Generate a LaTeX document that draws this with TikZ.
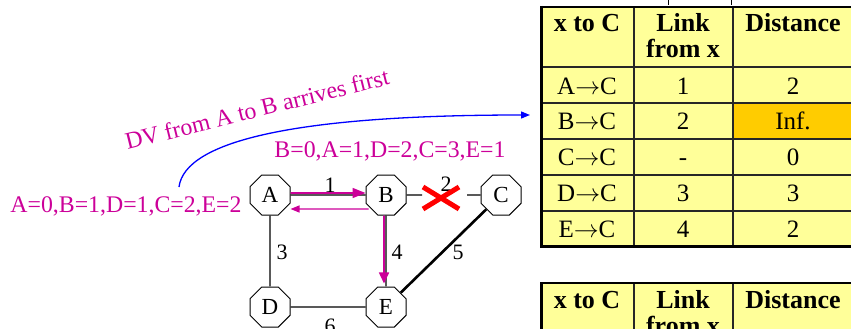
\documentclass[tikz,border=0pt]{standalone}
\usepackage{fontspec}
\setmainfont{Liberation Serif}
\usetikzlibrary{shapes.geometric,arrows.meta}
\definecolor{dvmag}{RGB}{204,0,153}
\definecolor{dvblue}{RGB}{0,0,255}
\definecolor{cellyel}{RGB}{255,255,153}
\definecolor{cellorg}{RGB}{255,204,0}
\begin{document}
\begin{tikzpicture}[x=1pt,y=-1pt,
  router/.style={draw,line width=1pt,regular polygon,regular polygon sides=8,
    minimum size=43.3pt,inner sep=0pt,font=\fontsize{23}{23}\selectfont},
  link/.style={line width=1.2pt},
  heavylink/.style={line width=2.6pt},
  cost/.style={font=\fontsize{22}{22}\selectfont,inner sep=0pt},
  vectxt/.style={text=dvmag,font=\fontsize{23.8}{24}\selectfont,inner sep=0pt,anchor=base},
  magarrow/.style={draw=dvmag,line width=1.6pt},
  gridline/.style={line width=1.2pt,black!85},
  hdr/.style={anchor=base,inner sep=0pt,font=\fontsize{26}{26}\selectfont\bfseries},
  cell/.style={anchor=base,inner sep=0pt,font=\fontsize{25}{25}\selectfont}]
\useasboundingbox (0,0) rectangle (851,329);
\clip (0,0) rectangle (851,329);

% ---- network ----
\node[router] (A) at (270,195) {A};
\node[router] (B) at (386,195) {B};
\node[router] (C) at (501,195) {C};
\node[router] (D) at (270,307) {D};
\node[router] (E) at (386,307) {E};

\coordinate (bc1) at (422,195);
\coordinate (bc2) at (467,195);

\draw[link] (A) -- (B);
\draw[link] (A) -- (D);
\draw[link] (D) -- (E);
\draw[link] (B) -- (E);
\draw[link] (B) -- (bc1);
\draw[link] (bc2) -- (C);
\draw[heavylink] (C) -- (E);

\node[cost] (l1) at (330,185) {1};
\node[cost] (l2) at (446,184) {2};
\node[cost] (l3) at (282,252) {3};
\node[cost] (l4) at (397,252) {4};
\node[cost] (l5) at (458,252) {5};
\node[cost] (l6) at (330,326) {6};

% broken link B--C
\coordinate (cut) at (441,198);
\draw[red,line width=5pt] ([shift={(-18pt,-11pt)}]cut) -- ([shift={(18pt,11pt)}]cut)
  ([shift={(-18pt,11pt)}]cut) -- ([shift={(18pt,-11pt)}]cut);

% distance vectors exchanged
\draw[magarrow,-{Triangle[length=13pt,width=10pt]}]
  ([yshift=2pt]A.east) -- ([yshift=2pt]B.west);
\draw[magarrow,line width=1.3pt,-{Triangle[length=9pt,width=7pt]}]
  ([xshift=3pt,yshift=-14pt]B.west) -- ([yshift=-14pt]A.east);
\draw[magarrow,-{Triangle[length=11pt,width=10pt]}]
  ([xshift=-2pt]B.south) -- ([xshift=-2pt,yshift=3pt]E.north);

\node[vectxt] (va) at (126,212) {A=0,B=1,D=1,C=2,E=2};
\node[vectxt] (vb) at (390,157) {B=0,A=1,D=2,C=3,E=1};
\node[vectxt,rotate=14] (note) at (259,117) {DV from A to B arrives first};

\coordinate (dvstart) at (179,187);
\coordinate (tbl) at (530,115);
\draw[dvblue,line width=1.3pt,-{Triangle[length=9pt,width=7pt]}]
  (dvstart) .. controls (185,140) and (300,115) .. (tbl);

% ---- routing table: x to C ----
\draw[line width=0.8pt] (668,0) -- (668,5) (731,0) -- (731,5);
\fill[cellyel] (540,7) rectangle (853,246);
\fill[cellorg] (733,103) rectangle (853,139);
\draw[gridline] (634,7) -- (634,246) (733,7) -- (733,246);
\foreach \yy in {67,103,139,175,211} \draw[gridline] (540,\yy) -- (853,\yy);
\draw[line width=2pt] (540,7) -- (853,7);
\draw[line width=3pt] (541.5,6) -- (541.5,246.5) -- (853,246.5);

\node[hdr] (h1) at (587,32) {x to C};
\node[hdr] (h2) at (683,32) {Link};
\node[hdr] (h2b) at (683,58) {from x};
\node[hdr] (h3) at (793,32) {Distance};

\foreach \n/\l/\d [count=\i] in {A/1/2,B/2/Inf.,C/-/0,D/3/3,E/4/2} {
  \pgfmathsetmacro\yb{94+35.9*(\i-1)}
  \node[cell] (r\i x) at (587,\yb) {\n\(\rightarrow\)C};
  \node[cell] (r\i l) at (683,\yb) {\l};
  \node[cell] (r\i d) at (793,\yb) {\d};
}

% ---- second routing table (continues below) ----
\fill[cellyel] (540,283) rectangle (853,340);
\draw[gridline] (634,283) -- (634,340) (733,283) -- (733,340);
\draw[line width=2pt] (540,283) -- (853,283);
\draw[line width=3pt] (541.5,282) -- (541.5,340);

\node[hdr] (k1) at (587,308) {x to C};
\node[hdr] (k2) at (683,308) {Link};
\node[hdr] (k2b) at (683,334) {from x};
\node[hdr] (k3) at (793,308) {Distance};
\end{tikzpicture}
\end{document}
